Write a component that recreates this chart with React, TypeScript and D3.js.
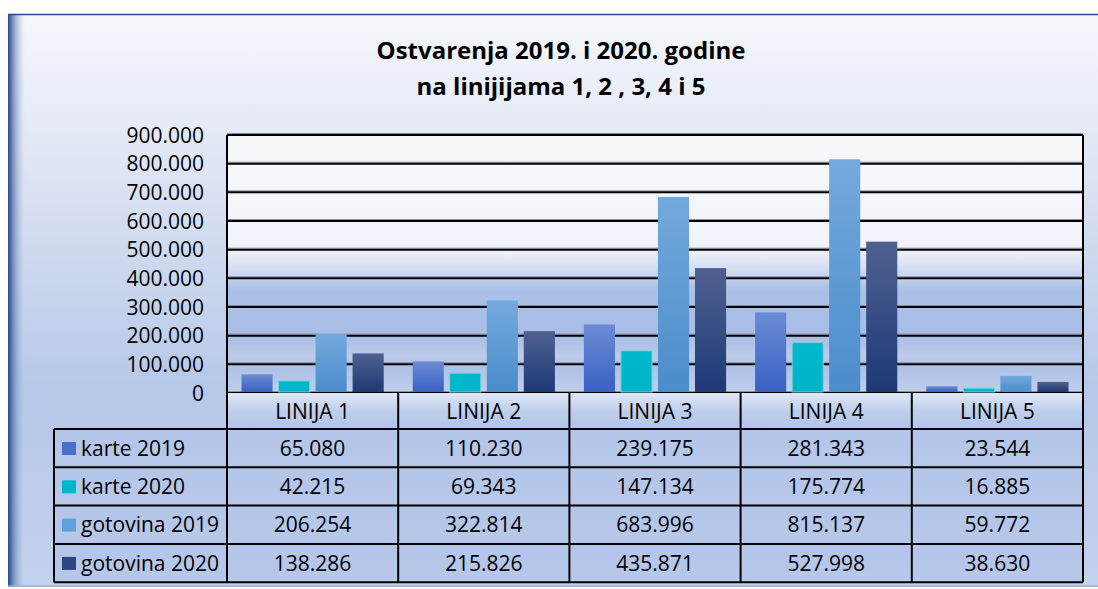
import React from "react";
import * as d3 from "d3";

const categories = ["LINIJA 1", "LINIJA 2", "LINIJA 3", "LINIJA 4", "LINIJA 5"];
const seriesNames = ["karte 2019", "karte 2020", "gotovina 2019", "gotovina 2020"];
const karte2019 = [65080, 110230, 239175, 281343, 23544];
const karte2020 = [42215, 69343, 147134, 175774, 16885];
const gotovina2019 = [206254, 322814, 683996, 815137, 59772];
const gotovina2020 = [138286, 215826, 435871, 527998, 38630];
const yTicks = [0, 100000, 200000, 300000, 400000, 500000, 600000, 700000, 800000, 900000];
const titleLines = ["Ostvarenja 2019. i 2020. godine", "na linijijama 1, 2 , 3, 4 i 5"];

const seriesValues = [karte2019, karte2020, gotovina2019, gotovina2020];
const seriesGrad = [
  ["#6b8bd5", "#3961c2"],
  ["#00b9cd", "#00b4c8"],
  ["#74a9dd", "#4a8dcb"],
  ["#4f6190", "#1d3977"],
];
const legendColors = ["#4a6fc8", "#00b6ca", "#62a0d8", "#2b4680"];

const W = 1098;
const H = 589;
const plotL = 227, plotR = 1083, plotT = 135, plotB = 393;
const headerH = 36;
const rowH = 38.3;
const legendL = 54;
const FONT = "'Open Sans', 'Noto Sans', sans-serif";
const FS = 21;

const fmt = (v: number) => (v === 0 ? "0" : d3.format(",")(v).replace(/,/g, "."));

export default function App() {
  const x = d3.scaleBand<string>().domain(categories).range([plotL, plotR]).padding(0);
  const xs = d3
    .scaleBand<string>()
    .domain(seriesNames)
    .range([14.5, x.bandwidth() - 14.5])
    .paddingInner(0.16);
  const y = d3.scaleLinear().domain([0, 900000]).range([plotB, plotT]);

  const tableTop = plotB;
  const rowsTop = tableTop + headerH;
  const tableBottom = rowsTop + rowH * seriesNames.length;

  return (
    <svg width={W} height={H} style={{ position: "absolute", left: 0, top: 0 }} fontFamily={FONT}>
      <defs>
        <linearGradient id="bg" x1="0" y1="0" x2="0" y2="1">
          <stop offset="0" stopColor="#f5f7fb" />
          <stop offset="0.2" stopColor="#e5eaf5" />
          <stop offset="0.65" stopColor="#b6c8e8" />
          <stop offset="1" stopColor="#c3d1ec" />
        </linearGradient>
        <linearGradient id="leftShadow" x1="0" y1="0" x2="1" y2="0">
          <stop offset="0" stopColor="#28478a" stopOpacity="1" />
          <stop offset="0.3" stopColor="#5a76ad" stopOpacity="0.75" />
          <stop offset="1" stopColor="#b6c8e8" stopOpacity="0" />
        </linearGradient>
        <linearGradient id="plotBg" x1="0" y1="0" x2="0" y2="1">
          <stop offset="0" stopColor="#f7f8fc" />
          <stop offset="0.44" stopColor="#f1f4fa" />
          <stop offset="0.52" stopColor="#d3ddf1" />
          <stop offset="0.6" stopColor="#aac0e6" />
          <stop offset="0.78" stopColor="#a9bee6" />
          <stop offset="0.86" stopColor="#bccbea" />
          <stop offset="0.9" stopColor="#aec2e7" />
          <stop offset="1" stopColor="#bfcfeb" />
        </linearGradient>
        <linearGradient id="hdr" x1="0" y1="0" x2="0" y2="1">
          <stop offset="0" stopColor="#e0e7f5" />
          <stop offset="0.5" stopColor="#bfcfec" />
          <stop offset="1" stopColor="#b1c4e8" />
        </linearGradient>
        <linearGradient id="row" x1="0" y1="0" x2="0" y2="1">
          <stop offset="0" stopColor="#b3c5e9" />
          <stop offset="1" stopColor="#b7c8ea" />
        </linearGradient>
        {seriesGrad.map((g, i) => (
          <linearGradient key={i} id={`bar${i}`} x1="0" y1="0" x2="0" y2="1">
            <stop offset="0" stopColor={g[0]} />
            <stop offset="1" stopColor={g[1]} />
          </linearGradient>
        ))}
      </defs>

      {/* chart background */}
      <rect x={8} y={14} width={W - 8} height={573} fill="url(#bg)" />
      <rect x={8} y={14} width={17} height={573} fill="url(#leftShadow)" />
      <line x1={8} x2={W} y1={14.5} y2={14.5} stroke="#2a4a8c" strokeWidth={1.5} />
      <line x1={8} x2={W} y1={586} y2={586} stroke="#9fb2d4" strokeWidth={1.5} />

      {/* title */}
      {titleLines.map((t, i) => (
        <text
          key={i}
          x={561}
          y={59 + i * 36}
          textAnchor="middle"
          fontWeight="bold"
          fontSize={24}
          fill="#000"
        >
          {t}
        </text>
      ))}

      {/* plot area */}
      <rect x={plotL} y={plotT} width={plotR - plotL} height={plotB - plotT} fill="url(#plotBg)" />
      {yTicks.map((t) => (
        <g key={t}>
          <line x1={plotL} x2={plotR} y1={y(t) - 1.5} y2={y(t) - 1.5} stroke="#8a8f99" strokeWidth={1} />
          <line x1={plotL} x2={plotR} y1={y(t)} y2={y(t)} stroke="#000" strokeWidth={2} />
        </g>
      ))}
      <line x1={plotL} x2={plotL} y1={plotT} y2={plotB} stroke="#000" strokeWidth={2} />
      <line x1={plotR} x2={plotR} y1={plotT} y2={plotB} stroke="#000" strokeWidth={2} />

      {/* bars */}
      {seriesValues.map((vals, si) =>
        vals.map((v, ci) => {
          const bx = (x(categories[ci]) as number) + (xs(seriesNames[si]) as number);
          return (
            <rect
              key={`${si}-${ci}`}
              x={bx}
              y={y(v)}
              width={xs.bandwidth()}
              height={plotB - 1 - y(v)}
              fill={`url(#bar${si})`}
              stroke={si === 1 ? "#7fd0de" : "none"}
              strokeWidth={si === 1 ? 1 : 0}
            />
          );
        })
      )}

      {/* y tick labels */}
      {yTicks.map((t) => (
        <text key={t} x={204} y={y(t)} dy="0.36em" textAnchor="end" fontSize={FS} fill="#000">
          {fmt(t)}
        </text>
      ))}

      {/* data table */}
      {categories.map((c) => (
        <g key={c}>
          <rect x={x(c)} y={tableTop} width={x.bandwidth()} height={headerH} fill="url(#hdr)" />
          <text
            x={(x(c) as number) + x.bandwidth() / 2}
            y={tableTop + headerH / 2}
            dy="0.36em"
            textAnchor="middle"
            fontSize={FS}
            fill="#000"
          >
            {c}
          </text>
        </g>
      ))}
      {seriesNames.map((s, si) => {
        const ry = rowsTop + si * rowH;
        return (
          <g key={s}>
            <rect x={legendL} y={ry} width={plotR - legendL} height={rowH} fill="url(#row)" />
            <rect x={62} y={ry + 13} width={14} height={13} fill={legendColors[si]} />
            <text x={81} y={ry + rowH / 2} dy="0.36em" fontSize={FS} fill="#000">
              {s}
            </text>
            {categories.map((c, ci) => (
              <text
                key={c}
                x={(x(c) as number) + x.bandwidth() / 2}
                y={ry + rowH / 2}
                dy="0.36em"
                textAnchor="middle"
                fontSize={FS}
                fill="#000"
              >
                {fmt(seriesValues[si][ci])}
              </text>
            ))}
          </g>
        );
      })}
      {/* table grid lines */}
      <g stroke="#000" strokeWidth={2} fill="none">
        <line x1={plotL} x2={plotR} y1={tableTop + headerH} y2={tableTop + headerH} />
        {seriesNames.map((s, si) => (
          <line key={s} x1={legendL} x2={plotR} y1={rowsTop + (si + 1) * rowH} y2={rowsTop + (si + 1) * rowH} />
        ))}
        <line x1={legendL} x2={plotL} y1={rowsTop} y2={rowsTop} />
        <line x1={legendL} x2={legendL} y1={rowsTop} y2={tableBottom} />
        {categories.map((c) => (
          <line key={c} x1={x(c)} x2={x(c)} y1={tableTop} y2={tableBottom} />
        ))}
        <line x1={plotR} x2={plotR} y1={tableTop} y2={tableBottom} />
      </g>
    </svg>
  );
}
